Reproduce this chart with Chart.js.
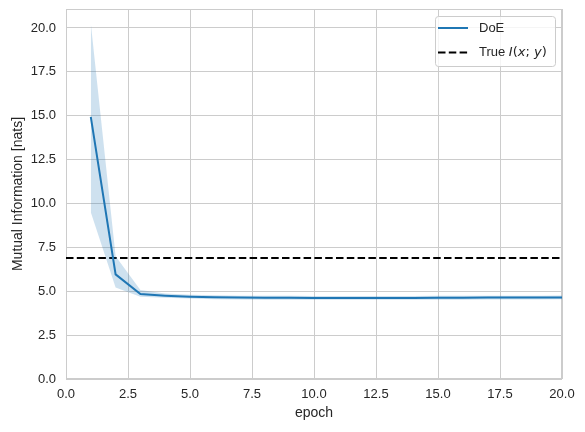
<!DOCTYPE html>
<html>
<head>
<meta charset="utf-8">
<title>DoE mutual information</title>
<script src="https://cdn.jsdelivr.net/npm/chart.js@4/dist/chart.umd.min.js"></script>
<style>
  body { margin: 0; background: #fff; }
  #chart { display: block; }
</style>
</head>
<body>
<canvas id="chart" width="585" height="432"></canvas>
<script>
// values
const epochs = [1, 2, 3, 4, 5, 6, 7, 8, 9, 10, 11, 12, 13, 14, 15, 16, 17, 18, 19, 20];
const doeMean = [14.93, 5.96, 4.84, 4.75, 4.69, 4.66, 4.64, 4.63, 4.63, 4.62, 4.62, 4.62, 4.62, 4.62, 4.63, 4.63, 4.64, 4.64, 4.64, 4.65];
const doeUpper = [20.27, 7.0, 5.07, 4.87, 4.80, 4.77, 4.75, 4.74, 4.74, 4.73, 4.73, 4.73, 4.73, 4.73, 4.74, 4.74, 4.75, 4.75, 4.75, 4.76];
const doeLower = [9.5, 5.22, 4.69, 4.63, 4.58, 4.55, 4.53, 4.52, 4.52, 4.51, 4.51, 4.51, 4.51, 4.51, 4.52, 4.52, 4.53, 4.53, 4.53, 4.54];
const trueMI = 6.9;
const xRange = [0, 20];
const yRange = [0, 21.08];
const tickStep = 2.5;

const C0 = '#1f77b4';
const TEXT = '#262626';
const GRID = '#cccccc';
const FONT = "'Liberation Sans', Arial, sans-serif";
const FS = 13;     // ticks and legend
const FS_LAB = 14; // axis labels

function pts(ys) {
    return epochs.map((x, i) => ({x: x, y: ys[i]}));
}

// axes frame (spines) like seaborn whitegrid
const framePlugin = {
    id: 'frame',
    beforeDatasetsDraw(chart) {
        const a = chart.chartArea, ctx = chart.ctx;
        ctx.save();
        ctx.strokeStyle = GRID;
        ctx.lineWidth = 1;
        ctx.strokeRect(a.left + 0.5, a.top + 0.5, a.right - a.left - 1, a.bottom - a.top - 1);
        ctx.restore();
    }
};

// legend box inside the axes, upper right
const legendBox = {
    id: 'legendBox',
    afterDraw(chart) {
        const a = chart.chartArea, ctx = chart.ctx;
        const w = 120, h = 50;
        const x0 = a.right - 7 - w, y0 = a.top + 7;
        ctx.save();
        ctx.beginPath();
        ctx.roundRect(x0 + 0.5, y0 + 0.5, w, h, 3);
        ctx.fillStyle = 'rgba(255,255,255,0.8)';
        ctx.fill();
        ctx.strokeStyle = GRID;
        ctx.lineWidth = 1;
        ctx.stroke();

        const rows = [chart.data.datasets[2], chart.data.datasets[3]];
        const ys = [y0 + 12, y0 + 36.5];
        rows.forEach((ds, i) => {
            ctx.beginPath();
            ctx.setLineDash(ds.borderDash || []);
            ctx.strokeStyle = ds.borderColor;
            ctx.lineWidth = ds.borderWidth;
            ctx.moveTo(x0 + 3, ys[i]);
            ctx.lineTo(x0 + 33, ys[i]);
            ctx.stroke();
        });
        ctx.setLineDash([]);
        ctx.fillStyle = TEXT;
        ctx.textBaseline = 'middle';
        ctx.font = FS + 'px ' + FONT;
        const tx = x0 + 44;
        ctx.fillText(rows[0].label, tx, ys[0]);
        // "True $I(x;y)$" with math italics
        const parts = [
            ['True ', FS + 'px ' + FONT],
            ['I', 'italic ' + FS + 'px "DejaVu Sans"'],
            ['(', FS + 'px "DejaVu Sans"'],
            ['x', 'italic ' + FS + 'px "DejaVu Sans"'],
            ['; ', FS + 'px "DejaVu Sans"'],
            ['y', 'italic ' + FS + 'px "DejaVu Sans"'],
            [')', FS + 'px "DejaVu Sans"']
        ];
        let cx = tx;
        parts.forEach(p => {
            ctx.font = p[1];
            ctx.fillText(p[0], cx, ys[1]);
            cx += ctx.measureText(p[0]).width;
        });
        ctx.restore();
    }
};

new Chart(document.getElementById('chart'), {
    type: 'line',
    data: {
        datasets: [
            {
                label: 'band upper',
                data: pts(doeUpper),
                borderWidth: 0,
                pointRadius: 0,
                fill: '+1',
                backgroundColor: 'rgba(31,119,180,0.22)',
                tension: 0
            },
            {
                label: 'band lower',
                data: pts(doeLower),
                borderWidth: 0,
                pointRadius: 0,
                fill: false,
                tension: 0
            },
            {
                label: 'DoE',
                data: pts(doeMean),
                borderColor: C0,
                borderWidth: 2,
                pointRadius: 0,
                fill: false,
                tension: 0
            },
            {
                label: 'True I(x; y)',
                data: [{x: xRange[0], y: trueMI}, {x: xRange[1], y: trueMI}],
                borderColor: '#000000',
                borderWidth: 2,
                borderDash: [7.5, 3.3],
                pointRadius: 0,
                fill: false
            }
        ]
    },
    options: {
        responsive: false,
        animation: false,
        layout: { padding: { top: 9, right: 23, left: 0, bottom: 0 } },
        plugins: {
            legend: { display: false },
            tooltip: { enabled: false }
        },
        scales: {
            x: {
                type: 'linear',
                min: xRange[0],
                max: xRange[1],
                afterFit(s) { s.height = 53; s.paddingLeft = 0; s.paddingRight = 0; },
                ticks: {
                    stepSize: tickStep,
                    padding: 8,
                    color: TEXT,
                    font: { family: FONT, size: FS },
                    callback: v => v.toFixed(1),
                    maxRotation: 0
                },
                grid: { color: GRID, lineWidth: 1, drawTicks: false },
                border: { display: false },
                title: {
                    display: true,
                    text: 'epoch',
                    color: TEXT,
                    font: { family: FONT, size: FS_LAB },
                    padding: { top: 0, bottom: 10 }
                }
            },
            y: {
                min: yRange[0],
                max: yRange[1],
                afterFit(s) { s.width = 66; s.paddingTop = 0; s.paddingBottom = 0; },
                ticks: {
                    stepSize: tickStep,
                    includeBounds: false,
                    padding: 10,
                    color: TEXT,
                    font: { family: FONT, size: FS },
                    callback: v => v.toFixed(1)
                },
                grid: { color: GRID, lineWidth: 1, drawTicks: false },
                border: { display: false },
                title: {
                    display: true,
                    text: 'Mutual Information [nats]',
                    color: TEXT,
                    font: { family: FONT, size: FS_LAB },
                    padding: { top: 10, bottom: 0 }
                }
            }
        }
    },
    plugins: [framePlugin, legendBox]
});
</script>
</body>
</html>
